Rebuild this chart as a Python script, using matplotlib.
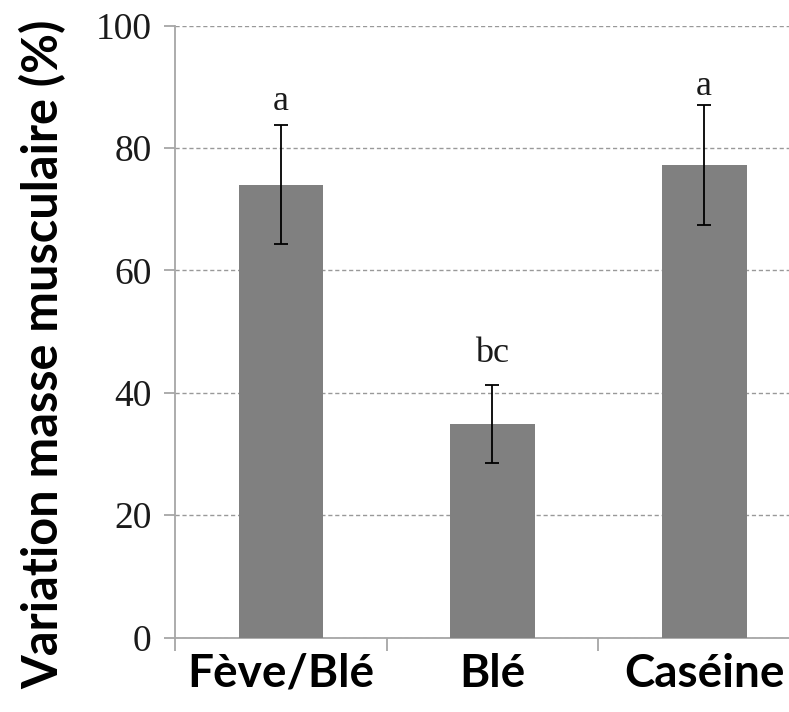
import numpy as np
import matplotlib.pyplot as plt

# données
groupes = ['Fève/Blé', 'Blé', 'Caséine']
moyennes = [74.0, 34.9, 77.2]
erreurs = [9.75, 6.4, 9.8]
lettres = ['a', 'bc', 'a']
lettres_y = [86.2, 45.1, 88.6]  # position des lettres de significativité
yticks = [0, 20, 40, 60, 80, 100]

gris_axe = '#a6a6a6'

fig = plt.figure(figsize=(7.89, 7.12), dpi=100)
ax = fig.add_axes([175 / 789, 74.5 / 712, 635 / 789, 611.8 / 712])

x = np.arange(len(groupes))
ax.bar(x, moyennes, width=0.4, color='#808080', zorder=3)
ax.errorbar(x, moyennes, yerr=erreurs, fmt='none', ecolor='black',
            elinewidth=1.3, capsize=5, capthick=1.3, zorder=4)

for xi, txt, yi in zip(x, lettres, lettres_y):
    ax.text(xi, yi, txt, ha='center', va='baseline',
            family='Liberation Serif', fontsize=26, color='#1a1a1a')

ax.set_xlim(-0.5, 2.5)
ax.set_ylim(0, 100)
ax.set_yticks(yticks)
ax.set_yticklabels([str(v) for v in yticks], family='Liberation Serif', fontsize=27, color='#1a1a1a')

# ticks majeurs au centre (sans trait), mineurs aux limites des catégories
ax.set_xticks(x)
ax.set_xticklabels(groupes, family='Lato', fontweight='bold', fontsize=33)
ax.set_xticks([-0.5, 0.5, 1.5], minor=True)
ax.tick_params(axis='x', which='major', length=0, pad=11)
ax.tick_params(axis='x', which='minor', length=9, color=gris_axe, width=1.3)
ax.tick_params(axis='y', length=8, color=gris_axe, width=1.3, pad=9)

ax.yaxis.grid(True, linestyle=(0, (3, 2)), color='#999999', linewidth=1.0, zorder=0)
ax.set_axisbelow(True)

for s in ['top', 'right']:
    ax.spines[s].set_visible(False)
for s in ['left', 'bottom']:
    ax.spines[s].set_color(gris_axe)
    ax.spines[s].set_linewidth(1.3)

fig.text(43 / 789, 358 / 712, 'Variation masse musculaire (%)', rotation=90,
         ha='center', va='center', family='Lato', fontweight='bold', fontsize=35)

fig.savefig('out.png', dpi=100)
